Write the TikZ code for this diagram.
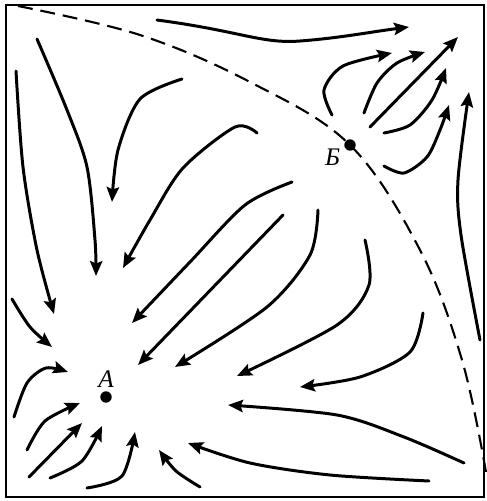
\documentclass[tikz,border=0pt]{standalone}
\usepackage{fontspec}
\setmainfont{Liberation Serif}
\usetikzlibrary{arrows.meta}

\begin{document}
\begin{tikzpicture}[
    x=0.02cm, y=-0.02cm,
    frame/.style={line width=1.2pt},
    flow/.style={line width=1.7pt, line cap=round,
                 -{Stealth[length=8.5pt, width=7pt, inset=1.4pt]}},
    separatrix/.style={line width=1.2pt, dash pattern=on 8.5pt off 4.5pt},
    pointdot/.style={circle, fill=black, inner sep=0pt, minimum size=6.5pt},
    plabel/.style={font=\Large\itshape, inner sep=1pt},
]
\useasboundingbox (0,0) rectangle (487,501);

% --- Frame ---
\draw[frame] (6,5) rectangle (484,497);

% --- Singular points ---
\coordinate (ptA) at (106,397);
\coordinate (ptB) at (350,145);
\node[pointdot] (dotA) at (ptA) {};
\node[pointdot] (dotB) at (ptB) {};
\node[plabel, above=1pt] (labA) at (dotA.north) {А};
\node[plabel, left=1pt] (labB) at ([yshift=-7pt]dotB.west) {Б};

% --- Separatrix through B ---
\draw[separatrix] plot[smooth, tension=0.6] coordinates
    {(18,6) (140,35) (250,82) (ptB) (420,250) (462,360) (486,472)};

% --- Flow towards A (upper left) ---
\draw[flow] plot[smooth] coordinates {(37,39) (67,110) (87,167) (95,240) (96,276)};
\draw[flow] plot[smooth] coordinates {(16,71) (23,167) (37,250) (54,314)};
\draw[flow] plot[smooth] coordinates {(182,79) (140,99) (118,150) (112,202)};
\draw[flow] plot[smooth] coordinates {(257,133) (235,127) (183,168) (150,220) (123,268)};
\draw[flow] plot[smooth] coordinates {(292,182) (245,205) (190,262) (132,323)};
\draw[flow] (283,215) -- (138,365);
\draw[flow] plot[smooth] coordinates {(318,210) (310,255) (267,307) (175,367)};
\draw[flow] plot[smooth] coordinates {(365,240) (369,285) (337,325) (237,376)};
\draw[flow] plot[smooth] coordinates {(423,313) (410,352) (360,377) (300,387)};

% --- Flow towards A (lower right) ---
\draw[flow] plot[smooth] coordinates {(464,463) (404,437) (337,415) (228,405)};
\draw[flow] plot[smooth] coordinates {(429,481) (330,475) (250,463) (188,443)};
\draw[flow] plot[smooth] coordinates {(200,487) (176,471) (159,450)};
\draw[flow] plot[smooth] coordinates {(87,488) (122,476) (135,432)};

% --- Flow towards A (lower left) ---
\draw[flow] plot[smooth] coordinates {(50,478) (82,461) (102,426)};
\draw[flow] (29,477) -- (82,423);
\draw[flow] plot[smooth] coordinates {(27,450) (45,421) (80,403)};
\draw[flow] plot[smooth] coordinates {(14,417) (27,383) (46,368) (68,372)};
\draw[flow] plot[smooth] coordinates {(12,299) (30,327) (52,347)};

% --- Flow away from B (upper right) ---
\draw[flow] (157,20) .. controls (240,31) and (262,44) .. (300,41)
            .. controls (340,38) and (370,32) .. (409,27);
\draw[flow] plot[smooth] coordinates {(332,115) (324,90) (343,66) (392,53)};
\draw[flow] plot[smooth] coordinates {(364,113) (377,83) (397,63) (425,52)};
\draw[flow] (370,127) -- (458,37);
\draw[flow] plot[smooth] coordinates {(384,133) (410,125) (432,100) (446,68)};
\draw[flow] plot[smooth] coordinates {(384,166) (404,173) (427,157) (440,130) (449,105)};
\draw[flow] plot[smooth] coordinates {(480,340) (461,235) (458,180) (469,92)};

\end{tikzpicture}
\end{document}
